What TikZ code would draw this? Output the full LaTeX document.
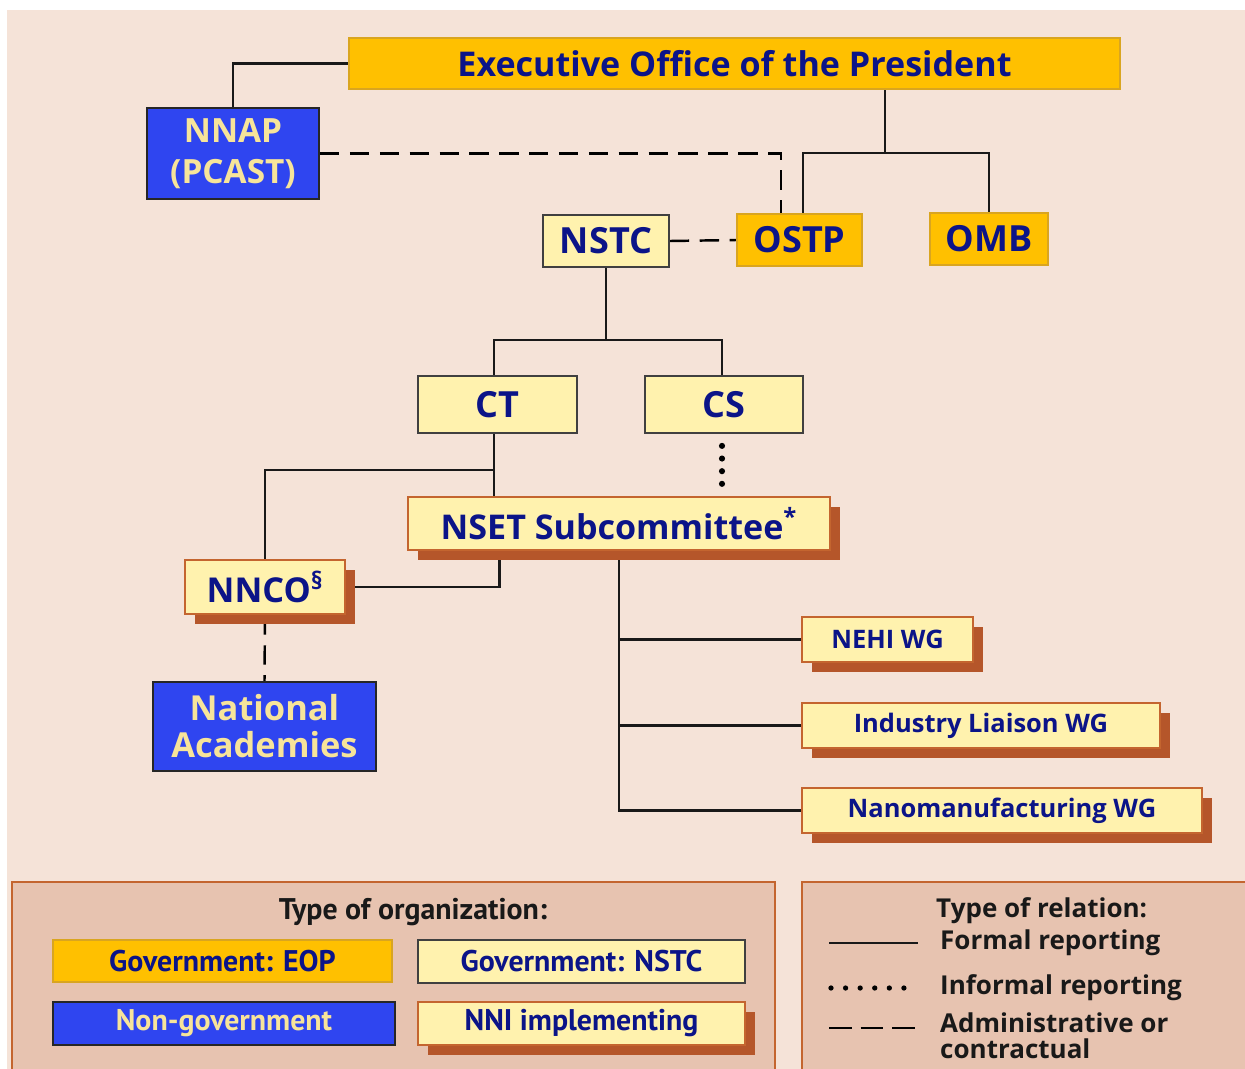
\documentclass[tikz,border=0pt]{standalone}
\usepackage{fontspec}
\setmainfont{Open Sans}
\newfontfamily\keyfamily{PT Sans}
\usepackage{tikz}
\usetikzlibrary{positioning, calc, shadows, backgrounds}
\definecolor{eopgold}{HTML}{FFC000}
\definecolor{eopedge}{HTML}{D9A520}
\definecolor{nstcfill}{HTML}{FFF2AE}
\definecolor{nongovblue}{HTML}{2F45F0}
\definecolor{nongovtext}{HTML}{F7E49A}
\definecolor{orgtext}{HTML}{0B1488}
\definecolor{nniedge}{HTML}{C4652F}
\definecolor{nnishadow}{HTML}{B5562A}
\definecolor{pagefill}{HTML}{F5E3D8}
\definecolor{legendfill}{HTML}{E7C3B0}

\begin{document}
\begin{tikzpicture}[
        x=0.02cm, y=-0.02cm,
        orgbox/.style={
            draw,
            inner sep=0pt,
            align=center,
            text=orgtext,
            font=\bfseries\fontsize{20.5}{23}\selectfont
        },
        eopbox/.style={orgbox, fill=eopgold, draw=eopedge, line width=0.8pt},
        nstcbox/.style={orgbox, fill=nstcfill, draw=black!75, line width=1pt},
        nongovbox/.style={orgbox, fill=nongovblue, draw=black!85, line width=1.2pt, text=nongovtext},
        nnibox/.style={
            orgbox,
            fill=nstcfill,
            draw=nniedge,
            line width=1.6pt,
            drop shadow={shadow xshift=0.2cm, shadow yshift=-0.19cm, fill=nnishadow, opacity=1}
        },
        wgfont/.style={font=\bfseries\fontsize{14.5}{16}\selectfont},
        legendfont/.style={font=\keyfamily\bfseries\fontsize{17}{19}\selectfont},
        keyfont/.style={font=\bfseries\fontsize{14.8}{16}\selectfont, text=black!90},
        formallink/.style={line width=1.4pt, black!90},
        informallink/.style={line width=3.5pt, line cap=round, dash pattern=on 0pt off 7.2pt},
        adminlink/.style={line width=1.4pt, dash pattern=on 11pt off 6pt}
    ]
        \useasboundingbox (0,0) rectangle (1245,1069);

        % executive office
        \node[eopbox, minimum width=15.42cm, minimum height=1.02cm,
            font=\bfseries\fontsize{19.4}{22}\selectfont] (eop) at (734.5,63.5) {Executive Office of the President};
        \node[nongovbox, minimum width=3.44cm, minimum height=1.82cm,
            font=\bfseries\fontsize{19}{23}\selectfont] (nnap) at (233,153.5) {NNAP\\(PCAST)};
        \node[nstcbox, minimum width=2.52cm, minimum height=1.04cm] (nstc) at (606,241) {NSTC};
        \node[eopbox, minimum width=2.5cm, minimum height=1.04cm] (ostp) at (799.5,240) {OSTP};
        \node[eopbox, minimum width=2.36cm, minimum height=1.04cm] (omb) at (989,239) {OMB};

        % committees
        \node[nstcbox, minimum width=3.18cm, minimum height=1.14cm] (ct) at (497.5,404.5) {CT};
        \node[nstcbox, minimum width=3.16cm, minimum height=1.14cm] (cs) at (724,404.5) {CS};
        \node[nnibox, minimum width=8.44cm, minimum height=1.06cm,
            font=\bfseries\fontsize{19.4}{22}\selectfont] (nset) at (619,523.5) {NSET Subcommittee\textsuperscript{*}};
        \node[nnibox, minimum width=3.2cm, minimum height=1.08cm,
            font=\bfseries\fontsize{19.5}{22}\selectfont] (nnco) at (265,587) {NNCO\textsuperscript{\S}};
        \node[nongovbox, minimum width=4.46cm, minimum height=1.78cm,
            font=\bfseries\fontsize{19.6}{21}\selectfont] (natacad) at (264.5,726.5) {National\\Academies};

        % working groups
        \node[nnibox, wgfont, minimum width=3.42cm, minimum height=0.9cm] (nehi) at (887.5,639.5) {NEHI WG};
        \node[nnibox, wgfont, minimum width=7.16cm, minimum height=0.9cm] (indliaison) at (981,725.5) {Industry Liaison WG};
        \node[nnibox, wgfont, minimum width=8.0cm, minimum height=0.9cm] (nanomfg) at (1002,810.5) {Nanomanufacturing WG};

        % legend: organizations
        \node[legendfont, text=black!90] (orgtitle) at (413,912) {Type of organization:};
        \node[eopbox, legendfont, minimum width=6.78cm, minimum height=0.84cm] (keyeop) at (222.5,961) {Government: EOP};
        \node[nstcbox, legendfont, minimum width=6.54cm, minimum height=0.86cm] (keynstc) at (581.5,961.5) {Government: NSTC};
        \node[nongovbox, legendfont, minimum width=6.84cm, minimum height=0.86cm] (keynongov) at (224,1023.5) {Non-government};
        \node[nnibox, legendfont, minimum width=6.54cm, minimum height=0.86cm] (keynni) at (581.5,1023.5) {NNI implementing};

        % legend: relations
        \node[keyfont, anchor=west] (reltitle) at (930,911) {Type of relation:};
        \node[keyfont, anchor=west] (formaltext) at (934,943) {Formal reporting};
        \node[keyfont, anchor=west] (informaltext) at (934,988) {Informal reporting};
        \node[keyfont, anchor=west] (admintext) at (934,1023) {Administrative or};
        \node[keyfont, anchor=west] (contracttext) at (934,1049) {contractual};
        \coordinate (formalkey) at (829,943);
        \coordinate (informalkey) at (831,988);
        \coordinate (adminkey) at (829,1028);

        \begin{scope}[on background layer]
            \fill[pagefill] (7,10) rectangle (1245,1069);
            \fill[legendfill] (12,882) rectangle (775,1069);
            \draw[nniedge, line width=1.3pt] (12,1069) |- (775,882) -- (775,1069);
            \fill[legendfill] (802,882) rectangle (1245,1069);
            \draw[nniedge, line width=1.3pt] (802,1069) |- (1245,882);

            \draw[formallink] (nnap.north) |- (eop.west);
            \draw[adminlink] (nnap.east) -| ($(ostp.north)+(-18.5,0)$);
            \coordinate (eopsplit) at (885,153);
            \draw[formallink] (eopsplit |- eop.south) -- (eopsplit);
            \draw[formallink] ($(ostp.north)+(3.5,0)$) |- (eopsplit) -| (omb.north);
            \draw[adminlink] (nstc.east) -- (ostp.west);

            \coordinate (nstcsplit) at (606,340);
            \draw[formallink] (nstc.south) -- (nstcsplit);
            \draw[formallink] ($(ct.north)+(-3.5,0)$) |- (nstcsplit) -| ($(cs.north)+(-2,0)$);
            \coordinate (ctdrop) at ($(ct.south)+(-3.5,0)$);
            \coordinate (ctsplit) at ($(ctdrop)+(0,36)$);
            \draw[formallink] (ctdrop) -- (ctdrop |- nset.north);
            \draw[formallink] (nnco.north) |- (ctsplit);
            \draw[informallink] ($(cs.south)+(-2,12)$) -- ($(cs.south |- nset.north)+(-2,0)$);

            \draw[formallink] (nnco.east) -| ($(nset.south west)+(93,0)$);
            \draw[adminlink] (nnco.south) -- (natacad.north);
            \draw[formallink] (nset.south) |- (nanomfg.west);
            \draw[formallink] (nset.south |- nehi.west) -- (nehi.west);
            \draw[formallink] (nset.south |- indliaison.west) -- (indliaison.west);

            \draw[formallink] (formalkey) -- ++(89,0);
            \draw[informallink, line width=3pt, dash pattern=on 0pt off 8.3pt] (informalkey) -- ++(87,0);
            \draw[adminlink, dash pattern=on 13pt off 5pt] (adminkey) -- ++(91,0);
        \end{scope}
\end{tikzpicture}
\end{document}
